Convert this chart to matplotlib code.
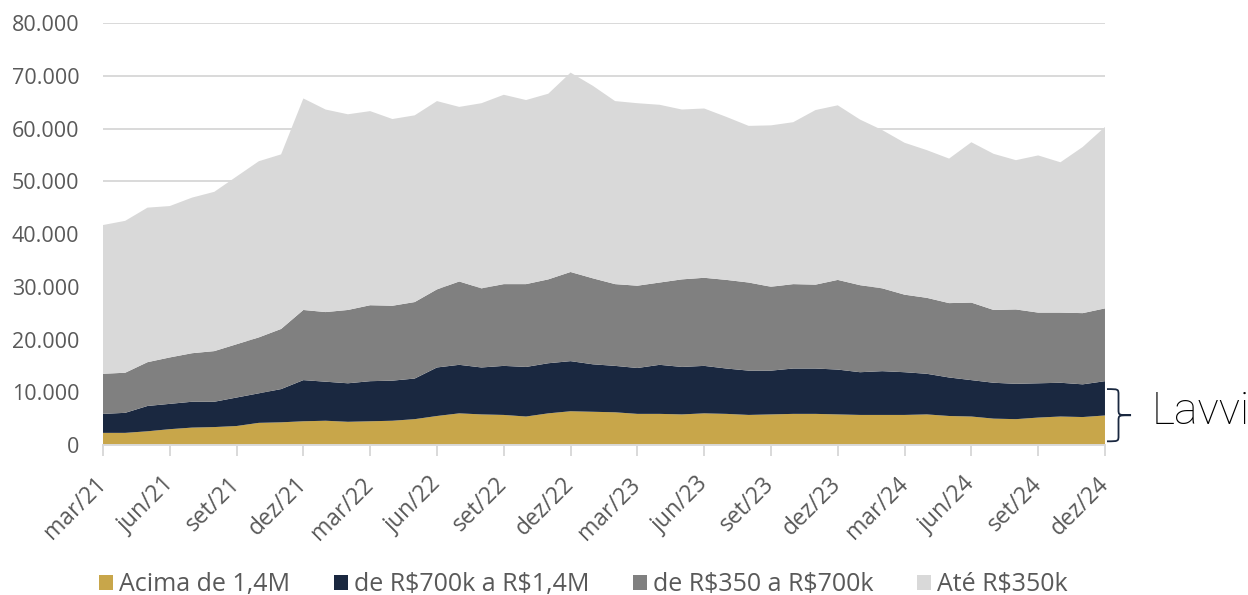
import matplotlib
matplotlib.use("Agg")
import matplotlib.pyplot as plt
import numpy as np
from matplotlib.patches import Patch, PathPatch
from matplotlib.path import Path
from matplotlib.transforms import blended_transform_factory

plt.rcParams["text.parse_math"] = False

# Monthly launches by price range, mar/21 .. dez/24
months = ["mar/21", "abr/21", "mai/21", "jun/21", "jul/21", "ago/21", "set/21", "out/21", "nov/21",
          "dez/21", "jan/22", "fev/22", "mar/22", "abr/22", "mai/22", "jun/22", "jul/22", "ago/22",
          "set/22", "out/22", "nov/22", "dez/22", "jan/23", "fev/23", "mar/23", "abr/23", "mai/23",
          "jun/23", "jul/23", "ago/23", "set/23", "out/23", "nov/23", "dez/23", "jan/24", "fev/24",
          "mar/24", "abr/24", "mai/24", "jun/24", "jul/24", "ago/24", "set/24", "out/24", "nov/24",
          "dez/24"]

acima_1_4m = [2300, 2300, 2600, 3000, 3300, 3400, 3600, 4200, 4300, 4500, 4600, 4400, 4500, 4600,
              4900, 5500, 6000, 5800, 5700, 5400, 6000, 6400, 6300, 6200, 5900, 5900, 5800, 6000,
              5900, 5700, 5800, 5900, 5900, 5800, 5700, 5700, 5700, 5800, 5500, 5400, 5000, 4900,
              5200, 5400, 5300, 5600]

de_700k_a_1_4m = [3600, 3800, 4800, 4800, 4900, 4800, 5400, 5600, 6300, 7800, 7400, 7300, 7600, 7600,
                  7700, 9200, 9200, 8900, 9300, 9400, 9500, 9500, 9000, 8800, 8700, 9300, 9000, 9000,
                  8600, 8400, 8300, 8600, 8600, 8500, 8100, 8300, 8100, 7700, 7300, 6900, 6800, 6700,
                  6500, 6400, 6200, 6500]

de_350k_a_700k = [7600, 7600, 8300, 8800, 9200, 9600, 10100, 10600, 11400, 13300, 13200, 13900, 14400,
                  14200, 14500, 14800, 15800, 15000, 15500, 15700, 15900, 16900, 16300, 15500, 15600,
                  15600, 16600, 16700, 16800, 16700, 15900, 16000, 15900, 17000, 16500, 15700, 14700,
                  14400, 14100, 14700, 13800, 14100, 13400, 13300, 13500, 13800]

ate_350k = [28200, 28800, 29300, 28700, 29500, 30200, 31800, 33400, 33100, 40100, 38400, 37100, 36800,
            35400, 35400, 35700, 33100, 35100, 35900, 34900, 35200, 37800, 36500, 34700, 34600, 33700,
            32200, 32100, 30900, 29700, 30600, 30700, 33100, 33100, 31400, 30000, 28800, 28000, 27400,
            30400, 29600, 28300, 29800, 28500, 31500, 34400]

series_labels = ["Acima de 1,4M", "de R$700k a R$1,4M", "de R$350 a R$700k", "Até R$350k"]
series_colors = ["#C8A64A", "#1A2840", "#808080", "#D9D9D9"]
y_ticks = [0, 10000, 20000, 30000, 40000, 50000, 60000, 70000, 80000]

x = np.arange(len(months))
tick_idx = x[::3]

fig = plt.figure(figsize=(12.48, 5.95), dpi=100)
ax = fig.add_axes([0.0825, 0.2521, 0.8029, 0.7092])

ax.stackplot(x, acima_1_4m, de_700k_a_1_4m, de_350k_a_700k, ate_350k,
             colors=series_colors, linewidth=0, zorder=2)

ax.set_xlim(x[0], x[-1])
ax.set_ylim(y_ticks[0], y_ticks[-1])

grid_color = "#D9D9D9"
text_color = "#595959"
for v in y_ticks[1:]:
    ax.axhline(v, color=grid_color, lw=1.4, zorder=1)

for s in ["top", "right", "left"]:
    ax.spines[s].set_visible(False)
ax.spines["bottom"].set_color(grid_color)
ax.spines["bottom"].set_linewidth(1.4)
ax.spines["bottom"].set_zorder(3)

ax.set_yticks(y_ticks)
ax.set_yticklabels([f"{v:,.0f}".replace(",", ".") for v in y_ticks])
ax.tick_params(axis="y", length=0, pad=17, labelsize=15.5, labelcolor=text_color)

ax.set_xticks(tick_idx)
ax.set_xticklabels([months[i] for i in tick_idx], rotation=45, ha="right", va="center",
                   rotation_mode="anchor")
ax.tick_params(axis="x", length=8, width=1.4, color=grid_color, pad=18,
               labelsize=16.5, labelcolor=text_color)
for lab in ax.get_xticklabels() + ax.get_yticklabels():
    lab.set_family("Open Sans")

# Bracket marking the two upper price ranges (Lavvi's segment)
lavvi_top = acima_1_4m[-1] + de_700k_a_1_4m[-1]
hi = lavvi_top - 1500
lo = 700
mid = (hi + lo) / 2
r = 1100
a, b, c = 1.002, 1.0135, 1.026
verts = [(a, hi), (b, hi), (b, hi), (b, hi - r),
         (b, mid + r), (b, mid), (b, mid), (c, mid),
         (b, mid), (b, mid), (b, mid - r),
         (b, lo + r), (b, lo), (b, lo), (a, lo)]
codes = [Path.MOVETO, Path.CURVE4, Path.CURVE4, Path.CURVE4,
         Path.LINETO, Path.CURVE4, Path.CURVE4, Path.CURVE4,
         Path.CURVE4, Path.CURVE4, Path.CURVE4,
         Path.LINETO, Path.CURVE4, Path.CURVE4, Path.CURVE4]
trans = blended_transform_factory(ax.transAxes, ax.transData)
ax.add_patch(PathPatch(Path(verts, codes), transform=trans, fill=False,
                       edgecolor="#1A2840", lw=1.3, clip_on=False, zorder=5))
ax.text(1.047, mid + 700, "Lavvi", transform=trans, fontsize=32, family="Roboto",
        fontweight="light", color="#000000", va="center", ha="left")

handles = [Patch(facecolor=col, edgecolor="none") for col in series_colors]
fig.legend(handles, series_labels, loc="center", bbox_to_anchor=(0.4675, 0.017), ncol=4,
           frameon=False, handlelength=0.55, handleheight=0.55, handletextpad=0.25,
           columnspacing=1.75, prop={"family": "Open Sans", "size": 18},
           labelcolor=text_color)

fig.savefig("out.png", dpi=100)
